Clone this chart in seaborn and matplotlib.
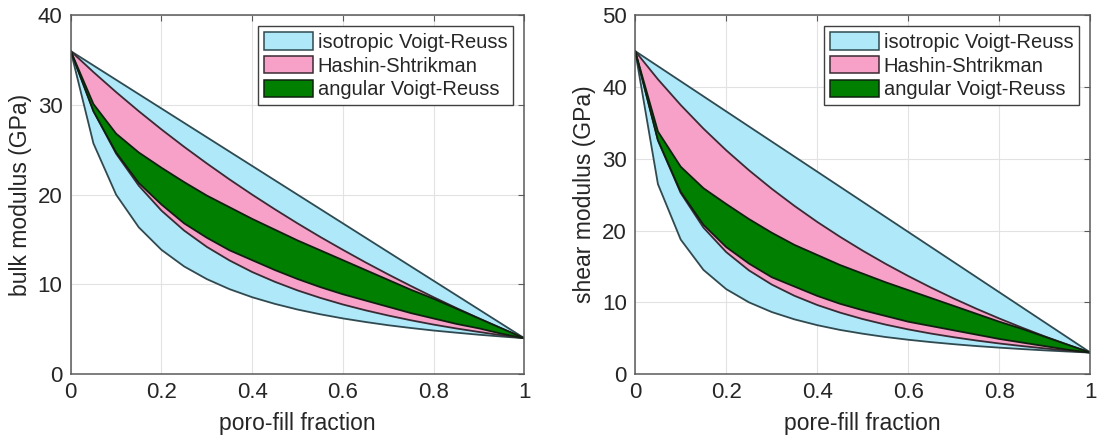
import matplotlib
matplotlib.use("Agg")
import matplotlib.pyplot as plt
import seaborn as sns
import pandas as pd
from matplotlib.patches import Patch

# ---- data ----
fraction = [0.0, 0.05, 0.1, 0.15, 0.2, 0.25, 0.3, 0.35, 0.4, 0.45, 0.5,
            0.55, 0.6, 0.65, 0.7, 0.75, 0.8, 0.85, 0.9, 0.95, 1.0]

bulk_voigt = [36.0, 34.4, 32.8, 31.2, 29.6, 28.0, 26.4, 24.8, 23.2, 21.6, 20.0,
              18.4, 16.8, 15.2, 13.6, 12.0, 10.4, 8.8, 7.2, 5.6, 4.0]
bulk_reuss = [36.0, 25.71, 20.0, 16.36, 13.85, 12.0, 10.59, 9.47, 8.57, 7.83, 7.2,
              6.67, 6.21, 5.81, 5.45, 5.14, 4.86, 4.62, 4.39, 4.19, 4.0]
bulk_hs_upper = [36.0, 33.66, 31.43, 29.30, 27.27, 25.33, 23.48, 21.70, 20.0, 18.37, 16.8,
                 15.29, 13.85, 12.45, 11.11, 9.82, 8.57, 7.37, 6.21, 5.08, 4.0]
bulk_hs_lower = [36.0, 29.33, 24.57, 21.0, 18.22, 16.0, 14.18, 12.67, 11.38, 10.29, 9.33,
                 8.5, 7.76, 7.11, 6.53, 6.0, 5.52, 5.09, 4.70, 4.33, 4.0]
bulk_avr_upper = [36.0, 30.1, 26.8, 24.7, 23.0, 21.4, 19.9, 18.6, 17.3, 16.1, 14.9,
                  13.8, 12.7, 11.6, 10.5, 9.4, 8.4, 7.3, 6.2, 5.1, 4.0]
bulk_avr_lower = [36.0, 29.3, 24.7, 21.3, 18.9, 16.8, 15.2, 13.8, 12.7, 11.6, 10.6,
                  9.7, 8.9, 8.2, 7.5, 6.8, 6.2, 5.6, 5.1, 4.5, 4.0]

shear_voigt = [45.0, 42.9, 40.8, 38.7, 36.6, 34.5, 32.4, 30.3, 28.2, 26.1, 24.0,
               21.9, 19.8, 17.7, 15.6, 13.5, 11.4, 9.3, 7.2, 5.1, 3.0]
shear_reuss = [45.0, 26.47, 18.75, 14.52, 11.84, 10.0, 8.65, 7.63, 6.82, 6.16, 5.63,
               5.17, 4.79, 4.46, 4.17, 3.91, 3.69, 3.49, 3.31, 3.15, 3.0]
shear_hs_upper = [45.0, 41.07, 37.49, 34.20, 31.18, 28.40, 25.82, 23.43, 21.20, 19.13, 17.19,
                  15.37, 13.66, 12.05, 10.53, 9.10, 7.75, 6.47, 5.25, 4.10, 3.0]
shear_hs_lower = [45.0, 32.56, 25.24, 20.41, 17.0, 14.45, 12.48, 10.91, 9.63, 8.57, 7.67,
                  6.90, 6.23, 5.65, 5.14, 4.68, 4.27, 3.91, 3.58, 3.27, 3.0]
shear_avr_upper = [45.0, 33.8, 28.9, 25.9, 23.7, 21.6, 19.7, 18.0, 16.6, 15.2, 14.0,
                   12.8, 11.7, 10.6, 9.5, 8.4, 7.3, 6.3, 5.2, 4.1, 3.0]
shear_avr_lower = [45.0, 32.6, 25.4, 20.8, 17.7, 15.4, 13.5, 12.2, 10.9, 9.8, 8.9,
                   8.1, 7.3, 6.7, 6.1, 5.5, 4.9, 4.4, 3.9, 3.4, 3.0]

band_names = ["isotropic Voigt-Reuss", "Hashin-Shtrikman", "angular Voigt-Reuss"]
x_ticks = [0, 0.2, 0.4, 0.6, 0.8, 1]
x_tick_labels = ["0", "0.2", "0.4", "0.6", "0.8", "1"]
bulk_y_ticks = [0, 10, 20, 30, 40]
shear_y_ticks = [0, 10, 20, 30, 40, 50]

# ---- style ----
sns.set_theme(style="white")
plt.rcParams["font.family"] = ["Liberation Sans", "DejaVu Sans"]
plt.rcParams["text.color"] = "#262626"

band_colors = ["#aee8f9", "#f7a1c8", "#007f00"]
edge_colors = ["#2f4a50", "#3a2a33", "#102010"]
axis_color = "#5a5a5a"

fig = plt.figure(figsize=(10.97, 4.47), dpi=100)
ax1 = fig.add_axes([0.0645, 0.163, 0.4135, 0.803])
ax2 = fig.add_axes([0.579, 0.163, 0.415, 0.803])


def draw_panel(ax, bands, ylim, yticks, xlabel, ylabel):
    df = pd.DataFrame({"f": fraction})
    for i, (lo, hi) in enumerate(bands):
        df["lo"] = lo
        df["hi"] = hi
        ax.fill_between(df["f"], df["lo"], df["hi"], facecolor=band_colors[i],
                        edgecolor="none", zorder=2 + i)
        for col in ("lo", "hi"):
            sns.lineplot(data=df, x="f", y=col, ax=ax, color=edge_colors[i],
                         lw=1.3, legend=False, zorder=2.5 + i, sort=False)
    ax.set_xlim(0, 1)
    ax.set_ylim(*ylim)
    ax.set_xticks(x_ticks)
    ax.set_xticklabels(x_tick_labels)
    ax.set_yticks(yticks)
    ax.set_yticklabels([str(t) for t in yticks])
    ax.grid(True, color="#e2e2e2", lw=0.8, zorder=0)
    ax.set_axisbelow(True)
    ax.tick_params(direction="in", top=True, right=True, length=4, width=0.8,
                   colors=axis_color, labelcolor="#262626", labelsize=16, pad=6)
    for sp in ax.spines.values():
        sp.set_color(axis_color)
        sp.set_linewidth(1.1)
        sp.set_zorder(10)
    ax.set_xlabel(xlabel, fontsize=16.5, color="#262626", labelpad=6)
    ax.set_ylabel(ylabel, fontsize=16.5, color="#262626", labelpad=4)
    handles = [Patch(facecolor=band_colors[i], edgecolor=edge_colors[i], lw=1.1)
               for i in range(3)]
    leg = ax.legend(handles, band_names, loc="upper right", fontsize=14.5,
                    fancybox=False, framealpha=1, edgecolor="#404040",
                    handlelength=2.4, handleheight=0.95, handletextpad=0.25,
                    borderaxespad=0.55, labelspacing=0.2, borderpad=0.3)
    leg.get_frame().set_linewidth(1.0)
    leg.set_zorder(20)


draw_panel(ax1,
           [(bulk_reuss, bulk_voigt), (bulk_hs_lower, bulk_hs_upper),
            (bulk_avr_lower, bulk_avr_upper)],
           (0, 40), bulk_y_ticks, "poro-fill fraction", "bulk modulus (GPa)")
draw_panel(ax2,
           [(shear_reuss, shear_voigt), (shear_hs_lower, shear_hs_upper),
            (shear_avr_lower, shear_avr_upper)],
           (0, 50), shear_y_ticks, "pore-fill fraction", "shear modulus (GPa)")

fig.savefig("out.png", dpi=100)
